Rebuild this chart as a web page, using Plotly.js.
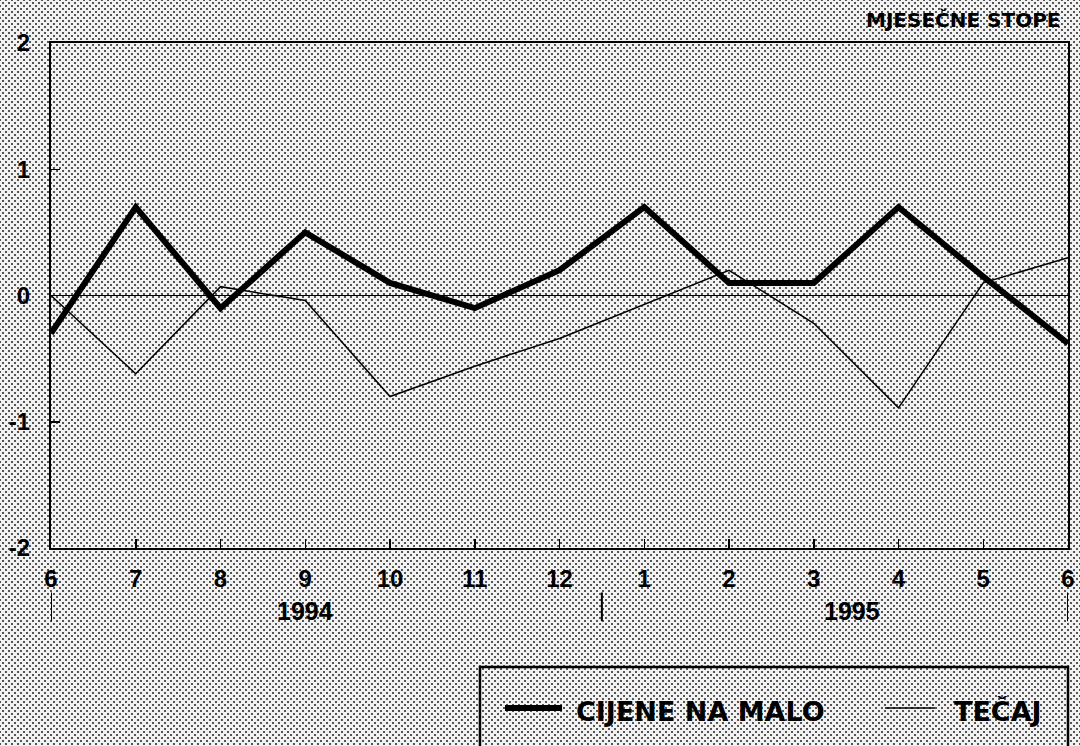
<!DOCTYPE html>
<html>
<head>
<meta charset="utf-8">
<script src="https://cdn.plot.ly/plotly-3.0.1.min.js"></script>
<style>
html, body { margin:0; padding:0; }
body {
  width:1080px; height:746px; overflow:hidden;
  background-color:#f2f2f2;
  background-image:
    radial-gradient(circle, #555 0.8px, rgba(0,0,0,0) 1.3px),
    radial-gradient(circle, #555 0.8px, rgba(0,0,0,0) 1.3px);
  background-size:6px 6px, 6px 6px;
  background-position:0 0, 3px 3px;
}
#chart { width:1080px; height:746px; }
</style>
</head>
<body>
<div id="chart"></div>
<script>
// Months: June 1994 .. June 1995
var monthLabels = ['6','7','8','9','10','11','12','1','2','3','4','5','6'];
var cijeneNaMalo = [-0.3, 0.7, -0.1, 0.5, 0.1, -0.1, 0.2, 0.7, 0.1, 0.1, 0.7, 0.15, -0.38];
var tecaj        = [0.0, -0.62, 0.07, -0.04, -0.8, -0.56, -0.34, -0.07, 0.2, -0.22, -0.89, 0.1, 0.3];
var seriesNames = ['CIJENE NA MALO', 'TEČAJ'];
var yTickVals = [-2, -1, 0, 1, 2];
var yTickText = ['-2', '-1', '0', '1', '2'];
var yearLabels = ['1994', '1995'];
var yearLabelPos = [3, 9.45];
var yearBoundaries = [0, 6.5, 12];

var xIdx = monthLabels.map(function(_, i){ return i; });
var fontFam = '"Liberation Sans", Arial, sans-serif';
var wideFam = '"DejaVu Sans", sans-serif';
var lineWidths = [6, 1.5];

var traces = [
  { x: xIdx, y: cijeneNaMalo, type:'scatter', mode:'lines', name:seriesNames[0],
    line:{color:'#000', width:lineWidths[0]} },
  { x: xIdx, y: tecaj, type:'scatter', mode:'lines', name:seriesNames[1],
    line:{color:'#000', width:lineWidths[1]} }
];

var shapes = yearBoundaries.map(function(b){
  return { type:'line', xref:'x', yref:'paper', x0:b, x1:b, y0:-0.088, y1:-0.145,
           line:{color:'#000', width:2} };
});
// legend box
shapes.push({ type:'rect', xref:'paper', yref:'paper', x0:0.4218, x1:1.0, y0:-0.45, y1:-0.2356,
              line:{color:'#000', width:2.5}, fillcolor:'rgba(0,0,0,0)' });
// legend samples
var legSampleX = [[0.4464, 0.5025], [0.8201, 0.8692]];
var legTextX = [0.5142, 0.8859];
legSampleX.forEach(function(s, i){
  shapes.push({ type:'line', xref:'paper', yref:'paper', x0:s[0], x1:s[1], y0:-0.3168, y1:-0.3168,
                line:{color:'#000', width:lineWidths[i]} });
});

var annotations = yearLabels.map(function(t, i){
  return { text:t, x:yearLabelPos[i], xref:'x', y:-0.1248, yref:'paper', yanchor:'middle',
           showarrow:false, font:{family:fontFam, size:25, color:'#000', weight:'bold'} };
});
seriesNames.forEach(function(n, i){
  annotations.push({ text:n, xref:'paper', x:legTextX[i], xanchor:'left', yref:'paper',
    y:-0.3228, yanchor:'middle', showarrow:false,
    font:{family:wideFam, size:27, color:'#000', weight:'bold'} });
});
annotations.push({ text:'MJESEČNE STOPE', xref:'paper', x:0.9945, xanchor:'right',
  yref:'paper', y:1.0446, yanchor:'middle', showarrow:false,
  font:{family:wideFam, size:20, color:'#000', weight:'bold'} });

var layout = {
  width:1080, height:746,
  margin:{l:51, r:12, t:43, b:198, pad:0, autoexpand:false},
  paper_bgcolor:'rgba(0,0,0,0)', plot_bgcolor:'rgba(0,0,0,0)',
  showlegend:false,
  xaxis:{ range:[0,12], tickvals:xIdx, ticktext:monthLabels, ticks:'inside', ticklen:9,
          tickwidth:1.5, tickcolor:'#000', showgrid:false, zeroline:false,
          showline:true, linecolor:'#000', linewidth:2, mirror:true,
          ticklabelstandoff:8,
          tickfont:{family:fontFam, size:24, color:'#000', weight:'bold'}, fixedrange:true },
  yaxis:{ range:[-2,2], tickvals:yTickVals, ticktext:yTickText, ticks:'inside', ticklen:9,
          tickwidth:1.5, tickcolor:'#000', showgrid:false, zeroline:true, zerolinecolor:'#000',
          zerolinewidth:1.3, showline:true, linecolor:'#000', linewidth:2, mirror:true,
          ticklabelstandoff:14,
          tickfont:{family:fontFam, size:24, color:'#000', weight:'bold'}, fixedrange:true },
  shapes:shapes,
  annotations:annotations
};

Plotly.newPlot('chart', traces, layout, {staticPlot:true, displayModeBar:false});
</script>
</body>
</html>
